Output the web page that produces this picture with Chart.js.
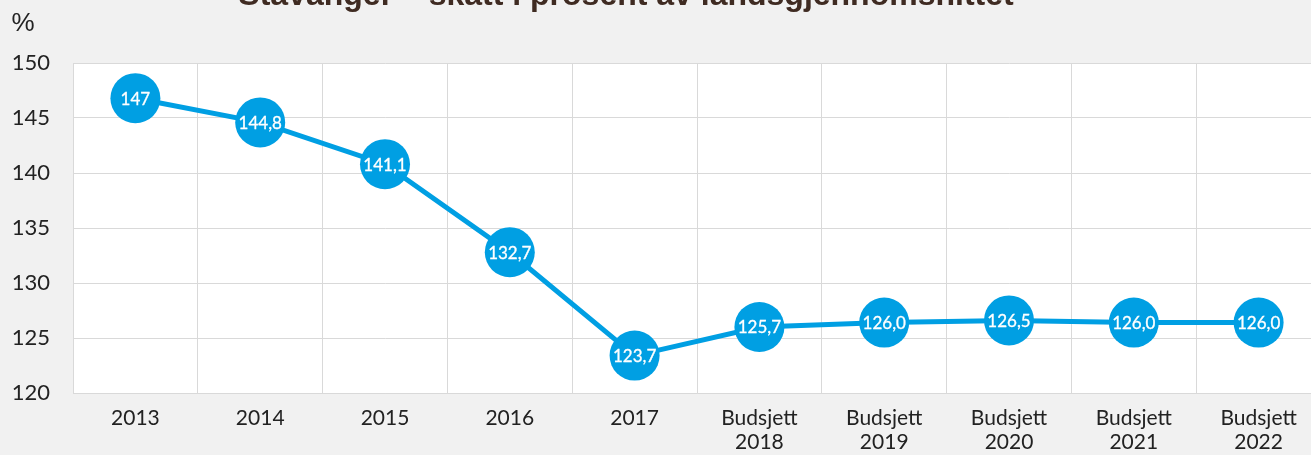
<!DOCTYPE html>
<html>
<head>
<meta charset="utf-8">
<script src="https://cdn.jsdelivr.net/npm/chart.js@4.4.1/dist/chart.umd.min.js"></script>
<style>
  html, body { margin: 0; padding: 0; background: #f1f1f1; overflow: hidden; }
  #myChart { position: absolute; left: 0; top: 0; }
</style>
</head>
<body>
<canvas id="myChart" width="1321" height="455"></canvas>
<script>
// data
const years = [["2013"], ["2014"], ["2015"], ["2016"], ["2017"],
  ["Budsjett", "2018"], ["Budsjett", "2019"], ["Budsjett", "2020"], ["Budsjett", "2021"], ["Budsjett", "2022"]];
const skatt = [146.8, 144.6, 140.8, 132.8, 123.4, 126.0, 126.4, 126.6, 126.4, 126.4];
const etiketter = ["147", "144,8", "141,1", "132,7", "123,7", "125,7", "126,0", "126,5", "126,0", "126,0"];
const yTicks = [120, 125, 130, 135, 140, 145, 150];
const tittel = "Stavanger – skatt i prosent av landsgjennomsnittet";

const blaa = "#009fe3";

let bakgrunn = {
  id: "bakgrunn",
  beforeDraw(chart) {
    const { ctx, chartArea: a } = chart;
    ctx.save();
    ctx.fillStyle = "#ffffff";
    ctx.fillRect(a.left, a.top, a.right - a.left, a.bottom - a.top);
    ctx.restore();
  },
  afterDraw(chart) {
    const ctx = chart.ctx;
    ctx.save();
    ctx.fillStyle = "#3f2b22";
    ctx.font = "bold 32px 'Liberation Sans', Arial, sans-serif";
    ctx.textAlign = "center";
    ctx.textBaseline = "alphabetic";
    ctx.fillText(tittel, 626, 5);
    ctx.fillStyle = "#222";
    ctx.font = "26px 'Liberation Sans', Arial, sans-serif";
    ctx.fillText("%", 23, 31);
    ctx.restore();
  }
};

let punktTekst = {
  id: "punktTekst",
  afterDatasetsDraw(chart) {
    const ctx = chart.ctx;
    const meta = chart.getDatasetMeta(0);
    ctx.save();
    ctx.fillStyle = "#ffffff";
    ctx.strokeStyle = "#ffffff";
    ctx.lineWidth = 0.3;
    ctx.font = "17px Lato, sans-serif";
    ctx.textAlign = "center";
    ctx.textBaseline = "middle";
    meta.data.forEach((p, i) => {
      ctx.fillText(etiketter[i], p.x, p.y + 1);
      ctx.strokeText(etiketter[i], p.x, p.y + 1);
    });
    ctx.restore();
  }
};

const config = {
  type: "line",
  data: {
    labels: years,
    datasets: [{
      data: skatt,
      borderColor: blaa,
      backgroundColor: blaa,
      borderWidth: 5,
      pointRadius: 25,
      pointHoverRadius: 25,
      pointBorderWidth: 0,
      pointBackgroundColor: blaa,
      tension: 0
    }]
  },
  options: {
    responsive: false,
    animation: false,
    layout: { autoPadding: false, padding: { top: 63, right: 0, bottom: 0, left: 0 } },
    plugins: {
      legend: { display: false },
      tooltip: { enabled: false }
    },
    scales: {
      x: {
        offset: true,
        grid: { color: "#d9d9d9", lineWidth: 1, drawTicks: false, offset: true },
        border: { color: "#d9d9d9" },
        ticks: {
          color: "#222",
          font: { family: "Lato", size: 21, lineHeight: 1.143 },
          padding: 13,
          maxRotation: 0,
          autoSkip: false
        },
        afterFit(scale) {
          scale.height = 62;
          scale.paddingLeft = 0;
          scale.paddingRight = 0;
        }
      },
      y: {
        min: 120,
        max: 150,
        afterBuildTicks(scale) { scale.ticks = yTicks.map(v => ({ value: v })); },
        grid: { color: "#d9d9d9", lineWidth: 1, drawTicks: false },
        border: { color: "#d9d9d9" },
        ticks: {
          color: "#222",
          font: { family: "Lato", size: 22 },
          padding: 23
        },
        afterFit(scale) { scale.width = 73; }
      }
    }
  },
  plugins: [bakgrunn, punktTekst]
};

new Chart(document.getElementById("myChart"), config);
</script>
</body>
</html>
